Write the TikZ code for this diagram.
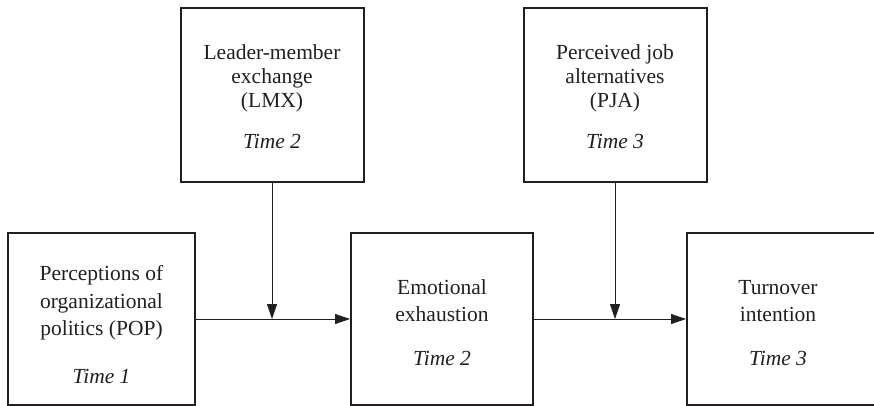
\documentclass[tikz,border=0pt]{standalone}
\usepackage{fontspec}
\setmainfont{Liberation Serif}
\usetikzlibrary{arrows.meta}
\definecolor{ink}{RGB}{35,31,32}
\tikzset{
  box/.style={draw=ink, line width=2pt, rectangle, inner sep=0pt},
  lowbox/.style={box, minimum height=172pt},
  highbox/.style={box, minimum height=174pt},
  lowtext/.style={text=ink, align=center, inner sep=0pt, anchor=north,
    font=\fontsize{21.5}{27.5}\selectfont},
  hightext/.style={text=ink, align=center, inner sep=0pt, anchor=north,
    font=\fontsize{21.5}{24}\selectfont},
  link/.style={draw=ink, line width=0.8pt, -{Triangle[length=15pt,width=10pt]}}
}
\begin{document}
\begin{tikzpicture}[x=1pt,y=-1pt]
\useasboundingbox (0,0) rectangle (874,406);
\clip (0,0) rectangle (874,406);
% boxes
\node[lowbox, minimum width=187pt] (pop) at (101.5,319) {};
\node[lowbox, minimum width=182pt] (ee) at (442,319) {};
\node[lowbox, minimum width=213pt] (ti) at (793.5,319) {};
\node[highbox, minimum width=183pt] (lmx) at (272,95) {};
\node[highbox, minimum width=183pt] (pja) at (615,95) {};
% texts
\node[lowtext] (poptext) at (101.5,265.3) {Perceptions of\\organizational\\politics (POP)\\[20pt]\textit{Time 1}};
\node[lowtext] (eetext) at (442,279.3) {Emotional\\exhaustion\\[16pt]\textit{Time 2}};
\node[lowtext] (titext) at (778,279.8) {Turnover\\intention\\[16pt]\textit{Time 3}};
\node[hightext] (lmxtext) at (272,44.3) {Leader-member\\exchange\\(LMX)\\[17pt]\textit{Time 2}};
\node[hightext] (pjatext) at (615,44.3) {Perceived job\\alternatives\\(PJA)\\[17pt]\textit{Time 3}};
% connectors
\coordinate (m1) at (lmx.south |- pop.east);
\coordinate (m2) at (pja.south |- ee.east);
\draw[link] (pop.east) -- (ee.west);
\draw[link] (ee.east) -- (ti.west);
\draw[link] (lmx.south) -- (m1);
\draw[link] (pja.south) -- (m2);
\end{tikzpicture}
\end{document}
